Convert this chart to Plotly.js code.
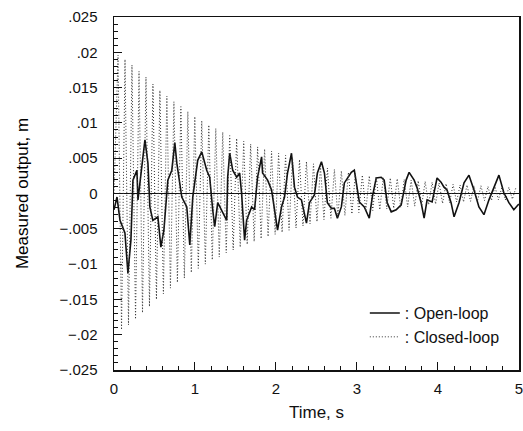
<!DOCTYPE html>
<html>
<head>
<meta charset="utf-8">
<script src="https://cdn.plot.ly/plotly-3.0.1.min.js"></script>
<style>html,body{margin:0;padding:0;background:#fff;}#chart{width:523px;height:431px;}</style>
</head>
<body>
<div id="chart"></div>
<script>
// Open-loop (solid) trace: time (s) and measured output (m)
var openT = [0.0,0.037,0.074,0.135,0.172,0.209,0.234,0.283,0.296,0.345,0.382,0.419,0.443,0.48,0.542,0.579,0.616,0.665,0.714,0.751,0.776,0.837,0.899,0.936,0.973,1.034,1.084,1.145,1.182,1.219,1.244,1.281,1.342,1.392,1.404,1.429,1.466,1.515,1.552,1.576,1.613,1.638,1.7,1.736,1.773,1.823,1.835,1.897,1.946,1.983,2.02,2.069,2.106,2.143,2.192,2.229,2.266,2.315,2.377,2.414,2.475,2.512,2.562,2.599,2.635,2.685,2.722,2.759,2.808,2.845,2.882,2.931,2.968,2.993,3.03,3.091,3.153,3.19,3.239,3.3,3.337,3.374,3.424,3.485,3.547,3.608,3.645,3.707,3.744,3.793,3.83,3.867,3.929,3.99,4.039,4.076,4.113,4.163,4.2,4.261,4.323,4.384,4.446,4.507,4.569,4.631,4.692,4.754,4.815,4.877,4.938,4.975,5.0];
var openY = [-0.0023,-0.0005,-0.0038,-0.0056,-0.0113,-0.0066,0.0019,0.0033,-0.0009,0.0043,0.0076,0.0043,-0.0019,-0.0038,-0.0033,-0.0076,-0.0052,0.0019,0.0033,0.0072,0.0043,-0.0005,-0.0019,-0.0073,-0.0005,0.0047,0.0059,0.0033,0.0023,-0.0023,-0.0047,-0.0013,-0.0028,-0.0038,0.0023,0.0057,0.0033,0.0023,0.0029,0.0,-0.0066,-0.0038,-0.0019,-0.0023,0.0023,0.0052,0.0029,0.0019,0.0005,-0.0023,-0.0052,-0.0019,-0.0005,0.0029,0.0057,0.0009,-0.0005,-0.0009,-0.0042,-0.0013,-0.0002,0.0029,0.0045,0.0029,-0.0013,-0.0021,-0.0021,-0.0035,-0.0019,0.0015,0.0022,0.003,0.0033,0.0015,-0.0012,-0.0019,-0.0035,-0.0005,0.0022,0.0023,0.0019,-0.0013,-0.0026,-0.0023,-0.0016,0.0019,0.003,0.0019,0.0008,-0.0013,-0.0035,-0.0009,-0.0012,0.0022,0.0016,0.0009,0.0005,-0.0013,-0.0033,-0.0013,0.0015,0.0026,0.0005,-0.0019,-0.003,-0.0009,0.0009,0.0026,0.0001,-0.0013,-0.0023,-0.0019,-0.0015];

// Closed-loop (dotted) trace: successive extrema of the oscillation
var closedT = [0.0,
  0.05,0.093,0.136,0.179,0.222,0.266,0.309,0.352,0.395,0.438,
  0.481,0.524,0.567,0.61,0.653,0.697,0.74,0.783,0.826,0.869,
  0.912,0.955,0.998,1.041,1.084,1.128,1.171,1.214,1.257,1.3,
  1.343,1.386,1.429,1.472,1.515,1.559,1.602,1.645,1.688,1.731,
  1.774,1.817,1.86,1.903,1.946,1.99,2.033,2.076,2.119,2.162,
  2.205,2.248,2.291,2.334,2.377,2.421,2.464,2.507,2.55,2.593,
  2.636,2.679,2.722,2.765,2.808,2.852,2.895,2.938,2.981,3.024,
  3.067,3.11,3.153,3.196,3.239,3.283,3.326,3.369,3.412,3.455,
  3.498,3.541,3.584,3.627,3.67,3.714,3.757,3.8,3.843,3.886,
  3.929,3.972,4.015,4.058,4.101,4.145,4.188,4.231,4.274,4.317,
  4.36,4.403,4.446,4.489,4.532,4.576,4.619,4.662,4.705,4.748,
  4.791,4.834,4.877,4.92,4.963];
var closedY = [0.0,
  0.0196,-0.0193,0.019,-0.0186,0.0182,-0.0178,0.0173,-0.0169,0.0165,-0.016,
  0.0155,-0.015,0.0146,-0.0142,0.0138,-0.0134,0.013,-0.0126,0.0123,-0.012,
  0.0116,-0.0112,0.0109,-0.0106,0.0103,-0.01,0.0097,-0.0094,0.0092,-0.009,
  0.0087,-0.0084,0.0082,-0.008,0.0078,-0.0076,0.0074,-0.0072,0.007,-0.0068,
  0.0066,-0.0064,0.0063,-0.0061,0.006,-0.0058,0.0057,-0.0055,0.0054,-0.0052,
  0.0051,-0.0049,0.0048,-0.0046,0.0045,-0.0043,0.0042,-0.004,0.0039,-0.0037,
  0.0036,-0.0035,0.0034,-0.0033,0.0032,-0.0031,0.003,-0.0029,0.0028,-0.0027,
  0.0026,-0.0025,0.0025,-0.0024,0.0024,-0.0023,0.0023,-0.0022,0.0022,-0.0021,
  0.0021,-0.002,0.002,-0.0019,0.0019,-0.0018,0.0018,-0.0017,0.0017,-0.0016,
  0.0016,-0.0015,0.0015,-0.0014,0.0014,-0.0013,0.0013,-0.0012,0.0012,-0.0012,
  0.0012,-0.0011,0.0011,-0.0011,0.0011,-0.001,0.001,-0.001,0.001,-0.0009,
  0.0009,-0.0009,0.0009,-0.0008,0.0008];

var yTickVals = [0.025,0.02,0.015,0.01,0.005,0,-0.005,-0.01,-0.015,-0.02,-0.025];
var yTickText = ['.025','.02','.015','.01','.005','0','\u2212.005','\u2212.01','\u2212.015','\u2212.02','\u2212.025'];
var xTickVals = [0,1,2,3,4,5];
var xTickText = ['0','1','2','3','4','5'];
var seriesNames = [': Open-loop', ': Closed-loop'];

var font = 'Liberation Sans, Arial, Helvetica, sans-serif';

var traces = [
  {x: openT, y: openY, type: 'scatter', mode: 'lines', name: seriesNames[0],
   line: {color: '#111', width: 1.6}},
  {x: closedT, y: closedY, type: 'scatter', mode: 'lines', name: seriesNames[1],
   line: {color: '#333', width: 1, dash: '1px,2px'}}
];

var layout = {
  width: 523, height: 431,
  margin: {l: 114, r: 4, t: 17, b: 61},
  paper_bgcolor: '#fff', plot_bgcolor: '#fff',
  font: {family: font, size: 15, color: '#111'},
  showlegend: true,
  legend: {x: 0.965, y: 0.045, xanchor: 'right', yanchor: 'bottom',
           bgcolor: 'rgba(255,255,255,0)', font: {size: 16, family: font},
           tracegroupgap: 0},
  xaxis: {range: [0, 5.002], tickvals: xTickVals, ticktext: xTickText,
          ticks: 'inside', ticklen: 8, tickwidth: 1, tickcolor: '#111',
          minor: {dtick: 0.2, ticks: 'inside', ticklen: 4, tickcolor: '#111'},
          showline: true, linecolor: '#111', linewidth: 1.5, mirror: true,
          showgrid: false, zeroline: false, ticklabeloverflow: 'allow',
          tickfont: {size: 15, family: font}, ticklabelstandoff: 4,
          title: {text: 'Time, s', font: {size: 17, family: font}, standoff: 10}},
  yaxis: {range: [-0.025, 0.025], tickvals: yTickVals, ticktext: yTickText,
          ticks: 'inside', ticklen: 8, tickwidth: 1, tickcolor: '#111',
          minor: {dtick: 0.001, ticks: 'inside', ticklen: 4, tickcolor: '#111'},
          showline: true, linecolor: '#111', linewidth: 1.5, mirror: true,
          showgrid: false, zeroline: true, zerolinecolor: '#111', zerolinewidth: 1.6,
          tickfont: {size: 15, family: font}, ticklabelstandoff: 12,
          title: {text: 'Measured output, m', font: {size: 17, family: font, color: '#000'}, standoff: 26}}
};

Plotly.newPlot('chart', traces, layout, {displayModeBar: false, staticPlot: true});
</script>
</body>
</html>
